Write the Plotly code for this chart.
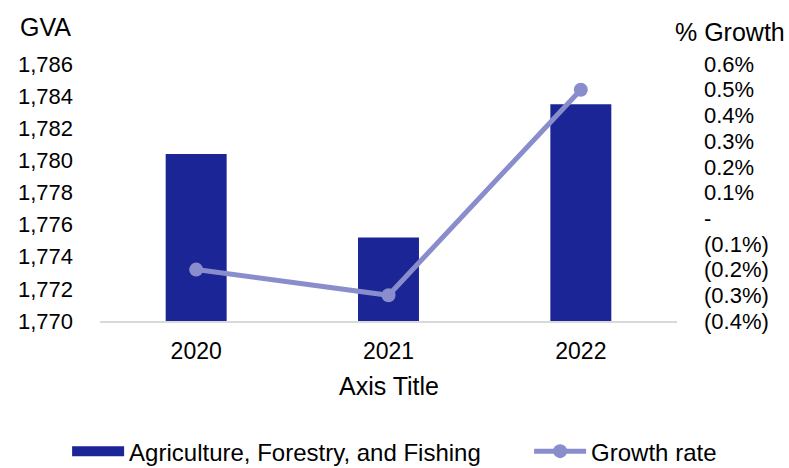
import plotly.graph_objects as go

# GVA for Agriculture, Forestry, and Fishing and its annual growth rate
years = ["2020", "2021", "2022"]
gva = [1780.4, 1775.2, 1783.5]
growth_pct = [-0.2, -0.3, 0.5]

gva_ticks = [1770, 1772, 1774, 1776, 1778, 1780, 1782, 1784, 1786]
growth_ticks = [-0.4, -0.3, -0.2, -0.1, 0.0, 0.1, 0.2, 0.3, 0.4, 0.5, 0.6]


def fmt_growth(v):
    if abs(v) < 1e-9:
        return "-"
    if v < 0:
        return f"({abs(v):.1f}%)"
    return f"{v:.1f}%"


BAR_COLOR = "#1b2596"
LINE_COLOR = "#8a8dcb"
FONT = "Liberation Sans, Arial, sans-serif"
BAR_NAME = "Agriculture, Forestry, and Fishing"

fig = go.Figure()
fig.add_trace(go.Bar(
    x=years, y=gva, name=BAR_NAME,
    marker=dict(color=BAR_COLOR, line=dict(width=0)),
    yaxis="y", showlegend=False,
))
# legend entry for the bars drawn as a wide block
fig.add_trace(go.Scatter(
    x=[None], y=[None], name=BAR_NAME, mode="lines",
    line=dict(color=BAR_COLOR, width=13), legendwidth=395,
))
fig.add_trace(go.Scatter(
    x=years, y=growth_pct, name="Growth rate", mode="lines+markers",
    line=dict(color=LINE_COLOR, width=5),
    marker=dict(color=LINE_COLOR, size=14),
    yaxis="y2",
))

fig.update_layout(
    width=789, height=468,
    margin=dict(l=100, r=112, t=64, b=147, autoexpand=False),
    paper_bgcolor="white", plot_bgcolor="white",
    font=dict(family=FONT, size=22, color="#000000"),
    bargap=0.683,
    showlegend=True,
    legend=dict(orientation="h", xref="paper", yref="paper",
                x=-0.057, xanchor="left", y=-0.508, yanchor="middle",
                font=dict(size=24), itemwidth=52, traceorder="normal"),
    xaxis=dict(
        showgrid=False, showline=True, linecolor="#d9d9d9", linewidth=2,
        ticks="", tickfont=dict(size=23), ticklabelstandoff=8,
        automargin=False,
    ),
    yaxis=dict(
        range=[1770, 1786], tickvals=gva_ticks,
        ticktext=[f"{v:,}" for v in gva_ticks],
        showgrid=False, zeroline=False, showline=False, ticks="",
        tickfont=dict(size=22), ticklabelstandoff=26, automargin=False,
    ),
    yaxis2=dict(
        range=[-0.4, 0.6], overlaying="y", side="right",
        tickvals=growth_ticks, ticktext=[fmt_growth(v) for v in growth_ticks],
        showgrid=False, zeroline=False, showline=False, ticks="",
        tickfont=dict(size=22), ticklabelstandoff=26, automargin=False,
    ),
    annotations=[
        dict(text="Axis Title", xref="paper", yref="paper", x=0.5, y=-0.253,
             xanchor="center", yanchor="middle", showarrow=False, font=dict(size=25)),
        dict(text="GVA", xref="paper", yref="paper", x=-0.0953, y=1.0, yshift=37,
             xanchor="center", yanchor="middle", showarrow=False, font=dict(size=25)),
        dict(text="% Growth", xref="paper", yref="paper", x=1.0, xshift=110, y=1.0, yshift=32,
             xanchor="right", yanchor="middle", showarrow=False, font=dict(size=25)),
    ],
)

fig.write_html("out.html")
